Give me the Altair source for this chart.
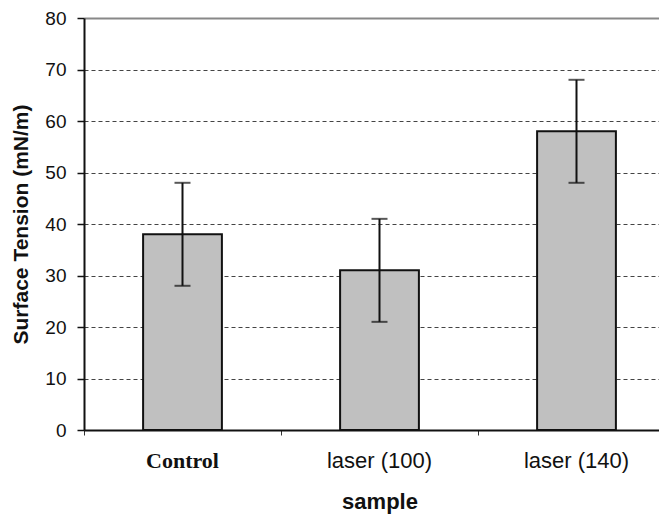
import altair as alt
import pandas as pd

samples = ["Control", "laser (100)", "laser (140)"]
tension = [38, 31, 58]
err_low = [28, 21, 48]
err_high = [48, 41, 68]
y_ticks = [0, 10, 20, 30, 40, 50, 60, 70, 80]

df = pd.DataFrame({"sample": samples, "tension": tension, "lo": err_low, "hi": err_high})

x_enc = alt.X(
    "sample:N",
    sort=samples,
    scale=alt.Scale(range=[0, 591], paddingInner=0, paddingOuter=0),
    axis=alt.Axis(
        title="sample",
        titleFont="Liberation Sans",
        titleFontSize=22,
        titleFontWeight="bold",
        titleColor="#111",
        titlePadding=20,
        labelAngle=0,
        labelFont=alt.condition("datum.value == 'Control'", alt.value("Liberation Serif"), alt.value("Liberation Sans")),
        labelFontWeight=alt.condition("datum.value == 'Control'", alt.value("bold"), alt.value("normal")),
        labelFontSize=22,
        labelColor="#111",
        labelPadding=15,
        bandPosition=0,
        tickSize=5,
        tickColor="#333",
        domainColor="#111",
        domainWidth=2,
        grid=False,
    ),
)

y_scale = alt.Scale(domain=[0, 80], nice=False)
y_axis = alt.Axis(
    title="Surface Tension (mN/m)",
    titleFont="Liberation Sans",
    titleFontSize=21,
    titleFontWeight="bold",
    titleColor="#111",
    titlePadding=13,
    values=y_ticks,
    labelFont="Liberation Sans",
    labelFontSize=19,
    labelColor="#111",
    labelPadding=11,
    tickSize=7,
    tickColor="#111",
    tickWidth=1.5,
    domainColor="#111",
    domainWidth=2,
    grid=True,
    gridColor=alt.condition("datum.value == 80", alt.value("#888"), alt.value("#444")),
    gridDash=alt.condition("datum.value == 80", alt.value([]), alt.value([4, 3])),
    gridWidth=alt.condition("datum.value == 80", alt.value(2), alt.value(1.2)),
)

base = alt.Chart(df)

bars = base.mark_bar(
    width=alt.RelativeBandSize(0.4), color="#c0c0c0", stroke="#111", strokeWidth=2
).encode(
    x=x_enc,
    y=alt.Y("tension:Q", scale=y_scale, axis=y_axis),
)

err = base.mark_rule(color="#111", strokeWidth=2).encode(
    x=alt.X("sample:N", sort=samples),
    y="lo:Q",
    y2="hi:Q",
)

cap_hi = base.mark_tick(color="#111", thickness=2, size=16, orient="horizontal").encode(
    x=alt.X("sample:N", sort=samples), y="hi:Q"
)
cap_lo = base.mark_tick(color="#111", thickness=2, size=16, orient="horizontal").encode(
    x=alt.X("sample:N", sort=samples), y="lo:Q"
)

chart = alt.layer(bars, err, cap_hi, cap_lo).properties(
    width=575,
    height=412,
    autosize=alt.AutoSizeParams(type="none"),
    padding={"left": 76, "top": 10, "right": 0, "bottom": 84},
    background="white",
).configure_view(stroke=None)

chart.save("out.html", embed_options={"renderer": "svg", "actions": False})
